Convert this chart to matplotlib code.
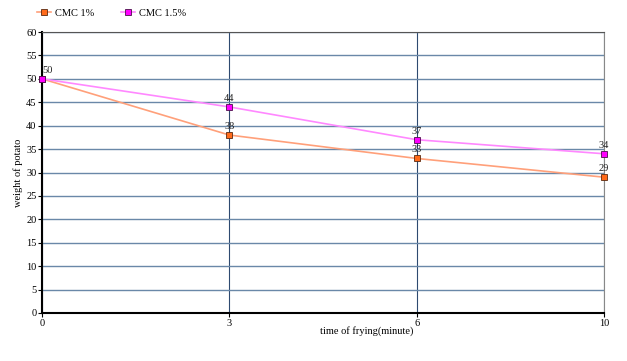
import matplotlib
matplotlib.use("Agg")
import matplotlib.pyplot as plt

categories = ["0", "3", "6", "10"]
cmc1 = [50, 38, 33, 29]
cmc15 = [50, 44, 37, 34]
yticks = list(range(0, 61, 5))

plt.rcParams['font.family'] = ['Liberation Serif', 'DejaVu Serif']

fig = plt.figure(figsize=(6.27, 3.61), dpi=100)
ax = fig.add_axes([42/627, 1-313/361, (604-42)/627, (313-32)/361])

x = list(range(len(categories)))
ax.plot(x, cmc1, color="#FFA07A", lw=1.2, marker="s", ms=5, mfc="#FF6A1A", mec="#5a2a10", mew=0.6, label="CMC 1%", zorder=3, clip_on=False)
ax.plot(x, cmc15, color="#FF88FF", lw=1.2, marker="s", ms=5, mfc="#FF00FF", mec="#4a104a", mew=0.6, label="CMC 1.5%", zorder=3, clip_on=False)

for xi, v in zip(x, cmc1):
    if xi == 0:
        ax.annotate(str(v), (xi, v), xytext=(0, 3), textcoords="offset points", ha="left", va="bottom", fontsize=7.5, color="#222222")
    else:
        ax.annotate(str(v), (xi, v), xytext=(0, 3), textcoords="offset points", ha="center", va="bottom", fontsize=7.5, color="#222222")
for xi, v in zip(x, cmc15):
    if xi == 0:
        continue
    ax.annotate(str(v), (xi, v), xytext=(0, 3), textcoords="offset points", ha="center", va="bottom", fontsize=7.5, color="#222222")

ax.set_xlim(0, len(categories) - 1)
ax.set_ylim(0, 60)
ax.set_xticks(x)
ax.set_xticklabels(categories)
ax.set_yticks(yticks)
ax.tick_params(labelsize=7.5, length=3, width=0.8, pad=1)

ax.grid(axis="y", color="#6a88a8", lw=1.0)
ax.grid(axis="x", color="#2e4a70", lw=0.8)
ax.set_axisbelow(True)

for s in ["left", "bottom"]:
    ax.spines[s].set_linewidth(1.5)
    ax.spines[s].set_color("black")
ax.spines["top"].set_color("#555555")
ax.spines["right"].set_color("#888888")

ax.set_xlabel("time of frying(minute)", fontsize=7.5)
ax.xaxis.set_label_coords((367-42)/(604-42), -0.045)
ax.set_ylabel("weight of potato", fontsize=7.5)
ax.yaxis.set_label_coords(-19/(604-42), 0.5)

fig.legend(loc="upper left", bbox_to_anchor=(28/627, 1 + 1/361), ncol=2, frameon=False, fontsize=7.5,
           handlelength=1.3, columnspacing=2.6, handletextpad=0.4, markerscale=0.9)

fig.savefig("out.png", dpi=100, facecolor="white")
